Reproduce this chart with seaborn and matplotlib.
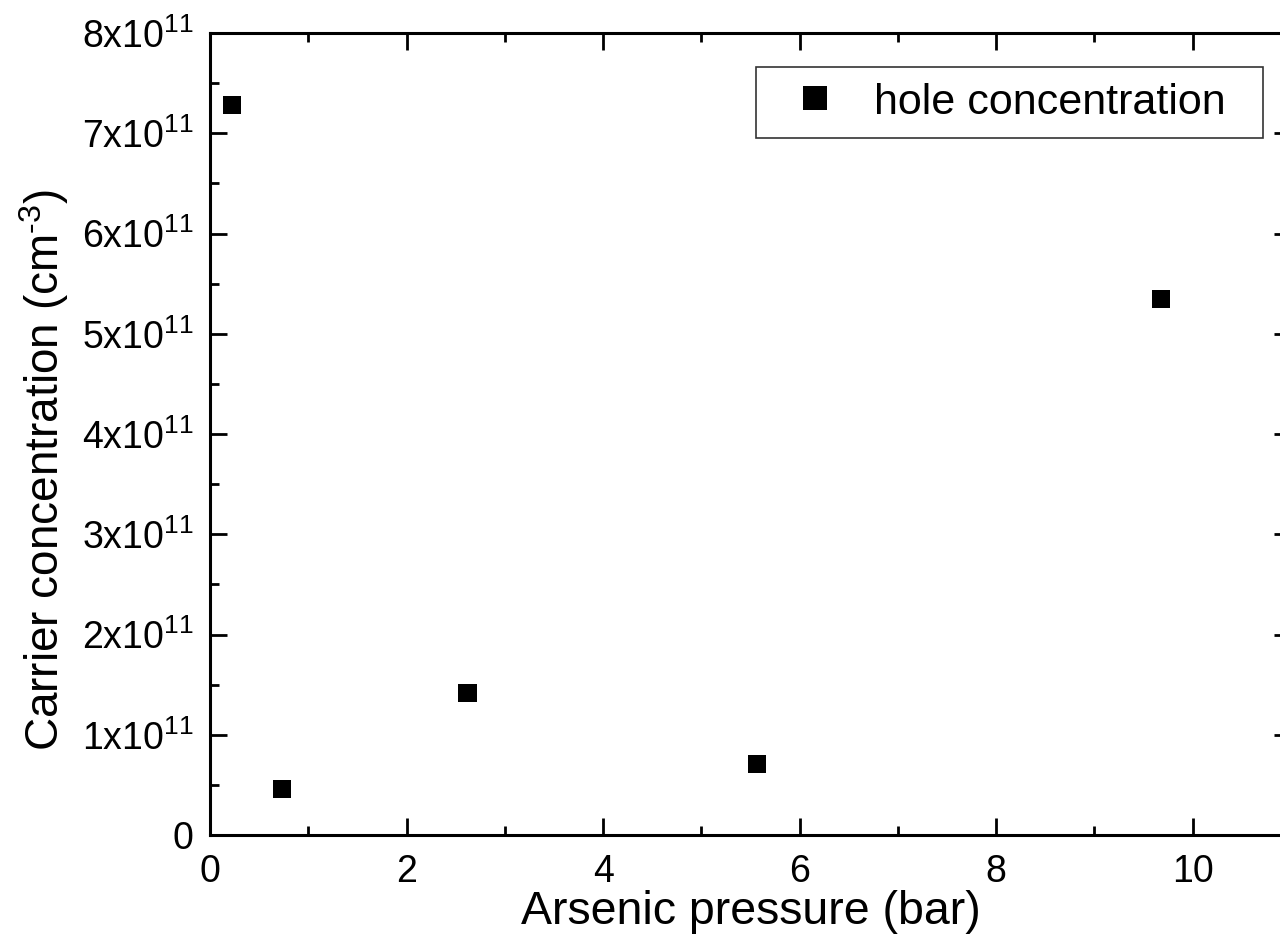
import matplotlib
matplotlib.use("Agg")
import matplotlib.pyplot as plt
import seaborn as sns
import pandas as pd
from matplotlib.ticker import MultipleLocator, FixedLocator, FixedFormatter

# Data
pressure_bar = [0.22, 0.73, 2.62, 5.57, 9.68]
hole_conc = [7.28e11, 0.46e11, 1.42e11, 0.71e11, 5.35e11]
series_name = "hole concentration"

y_tick_values = [0, 1e11, 2e11, 3e11, 4e11, 5e11, 6e11, 7e11, 8e11]
y_tick_labels = ["0"] + [r"$\mathregular{%dx10^{11}}$" % i for i in range(1, 9)]

df = pd.DataFrame({"x": pressure_bar, "y": hole_conc, "series": series_name})

sns.set_theme(style="ticks")
plt.rcParams["font.family"] = ["Liberation Sans", "DejaVu Sans"]
plt.rcParams["mathtext.fontset"] = "custom"
plt.rcParams["mathtext.rm"] = "Liberation Sans"
for k in ["text.color", "axes.labelcolor", "xtick.color", "ytick.color",
          "xtick.labelcolor", "ytick.labelcolor", "axes.edgecolor"]:
    plt.rcParams[k] = "black"

fig = plt.figure(figsize=(12.8, 9.36), dpi=100)
ax = fig.add_axes([210 / 1280, 1 - 835 / 936, 1081 / 1280, 802 / 936])

sns.scatterplot(data=df, x="x", y="y", hue="series", palette=["black"],
                marker="s", s=170, linewidth=0, ax=ax, legend=True)

ax.set_xlim(0, 11)
ax.set_ylim(0, 8e11)
ax.xaxis.set_major_locator(MultipleLocator(2))
ax.xaxis.set_minor_locator(MultipleLocator(1))
ax.yaxis.set_major_locator(FixedLocator(y_tick_values))
ax.yaxis.set_major_formatter(FixedFormatter(y_tick_labels))
ax.yaxis.set_minor_locator(MultipleLocator(0.5e11))

for sp in ax.spines.values():
    sp.set_linewidth(2.2)
    sp.set_color("black")

ax.tick_params(which="both", direction="in", top=True, right=True,
               width=2.0, color="black")
ax.tick_params(which="major", length=12, labelsize=27, pad=12)
ax.tick_params(which="minor", length=6.5)
ax.tick_params(axis="x", which="major", pad=14)

ax.set_xlabel("Arsenic pressure (bar)", fontsize=33.5, labelpad=0)
ax.set_ylabel("Carrier concentration (cm$^{\\mathregular{\u20103}}$)",
              fontsize=33, labelpad=8)
ax.yaxis.label.set_y(1 - (470 - 33) / 802)

handles, labels = ax.get_legend_handles_labels()
leg = ax.legend(handles, [lab + "\u2002" for lab in labels],
                loc="upper right",
                bbox_to_anchor=((1263 - 210) / 1081, 1 - (67 - 33) / 802),
                fontsize=31, frameon=True, fancybox=False, edgecolor="black",
                markerscale=1.35, handlelength=2.02, handletextpad=0.36,
                borderpad=0.36, borderaxespad=0)
leg.get_frame().set_linewidth(1.2)

fig.savefig("out.png", dpi=100)
